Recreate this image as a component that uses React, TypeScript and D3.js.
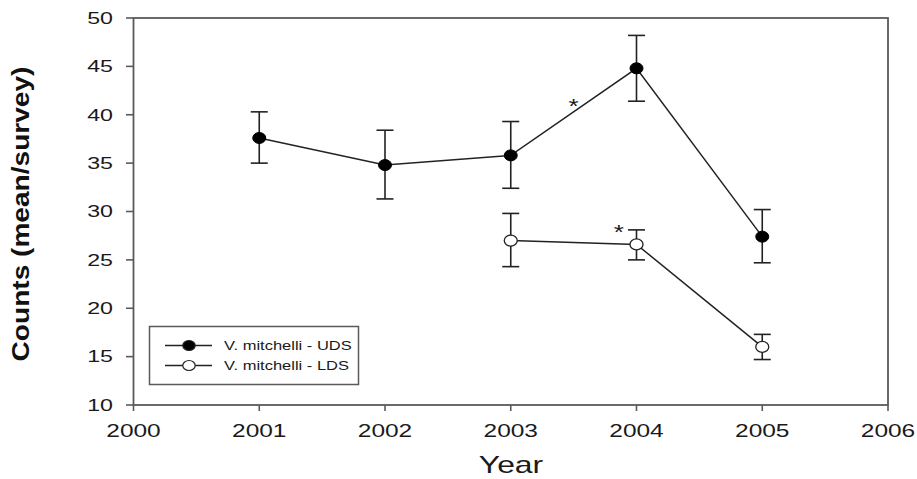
import React from "react";
import * as d3 from "d3";

const years = [2001, 2002, 2003, 2004, 2005];
const udsMean = [37.6, 34.8, 35.8, 44.8, 27.4];
const udsLow = [35.0, 31.3, 32.4, 41.4, 24.7];
const udsHigh = [40.3, 38.4, 39.3, 48.2, 30.2];
const ldsYears = [2003, 2004, 2005];
const ldsMean = [27.0, 26.6, 16.0];
const ldsLow = [24.3, 25.0, 14.7];
const ldsHigh = [29.8, 28.1, 17.3];
const xTicks = [2000, 2001, 2002, 2003, 2004, 2005, 2006];
const yTicks = [10, 15, 20, 25, 30, 35, 40, 45, 50];
const stars = [
  { x: 2003.5, y: 41.2 },
  { x: 2003.86, y: 28.2 },
];
const legendLabels = ["V. mitchelli - UDS", "V. mitchelli - LDS"];

const font = "Arial, 'Liberation Sans', sans-serif";

function SText(props: { x: number; y: number; sx: number; size: number; anchor?: string; weight?: string; children: React.ReactNode }) {
  return (
    <text
      transform={`translate(${props.x},${props.y}) scale(${props.sx},1)`}
      textAnchor={props.anchor || "start"}
      fontFamily={font}
      fontSize={props.size}
      fontWeight={props.weight || "normal"}
      fill="#1a1a1a"
    >
      {props.children}
    </text>
  );
}

export default function App() {
  const W = 917, H = 479;
  const x = d3.scaleLinear().domain([2000, 2006]).range([133.5, 888]);
  const y = d3.scaleLinear().domain([10, 50]).range([405, 18]);
  const line = d3.line<[number, number]>().x(d => x(d[0])).y(d => y(d[1]));
  const uds = years.map((yr, i) => [yr, udsMean[i]] as [number, number]);
  const lds = ldsYears.map((yr, i) => [yr, ldsMean[i]] as [number, number]);
  const axisColor = "#5a5a5a";

  const errBars = (xs: number[], lo: number[], hi: number[], key: string) =>
    xs.map((yr, i) => (
      <g key={key + i} stroke="#222" strokeWidth={1.6}>
        <line x1={x(yr)} x2={x(yr)} y1={y(lo[i])} y2={y(hi[i])} />
        <line x1={x(yr) - 8.5} x2={x(yr) + 8.5} y1={y(lo[i])} y2={y(lo[i])} />
        <line x1={x(yr) - 8.5} x2={x(yr) + 8.5} y1={y(hi[i])} y2={y(hi[i])} />
      </g>
    ));

  return (
    <svg width={W} height={H} style={{ position: "absolute", left: 0, top: 0, background: "#fff" }}>
      <rect width={W} height={H} fill="#fff" />
      {/* frame */}
      <rect x={133.5} y={18} width={888 - 133.5} height={405 - 18} fill="none" stroke={axisColor} strokeWidth={1.8} />
      {/* y ticks */}
      {yTicks.map(t => (
        <g key={"y" + t}>
          <line x1={126} x2={133.5} y1={y(t)} y2={y(t)} stroke={axisColor} strokeWidth={1.6} />
          <SText x={113} y={y(t) + 5.8} sx={1.45} size={16} anchor="end">{t}</SText>
        </g>
      ))}
      {/* x ticks */}
      {xTicks.map(t => (
        <g key={"x" + t}>
          <line x1={x(t)} x2={x(t)} y1={405} y2={411} stroke={axisColor} strokeWidth={1.6} />
          <SText x={x(t)} y={437} sx={1.4} size={17.5} anchor="middle">{t}</SText>
        </g>
      ))}
      {/* axis labels */}
      <SText x={511} y={473} sx={1.33} size={24} anchor="middle">Year</SText>
      <text transform="translate(29,214) rotate(-90) scale(1.17,1)" textAnchor="middle" fontFamily={font} fontSize={24} fontWeight="bold" fill="#111">Counts (mean/survey)</text>
      {/* error bars */}
      {errBars(years, udsLow, udsHigh, "u")}
      {errBars(ldsYears, ldsLow, ldsHigh, "l")}
      {/* lines */}
      <path d={line(uds) || ""} fill="none" stroke="#222" strokeWidth={1.5} />
      <path d={line(lds) || ""} fill="none" stroke="#222" strokeWidth={1.5} />
      {/* markers */}
      {uds.map((d, i) => (
        <ellipse key={"um" + i} cx={x(d[0])} cy={y(d[1])} rx={6.5} ry={5.5} fill="#000" stroke="#000" strokeWidth={1} />
      ))}
      {lds.map((d, i) => (
        <ellipse key={"lm" + i} cx={x(d[0])} cy={y(d[1])} rx={6.5} ry={5.5} fill="#fff" stroke="#222" strokeWidth={1.3} />
      ))}
      {/* significance stars */}
      {stars.map((s, i) => (
        <SText key={"s" + i} x={x(s.x)} y={y(s.y) + 10} sx={1.3} size={20} anchor="middle">*</SText>
      ))}
      {/* legend */}
      <rect x={149.5} y={326.5} width={209} height={58} fill="#fff" stroke={axisColor} strokeWidth={1.5} />
      {legendLabels.map((lab, i) => {
        const ly = 345.5 + i * 20;
        return (
          <g key={"lg" + i}>
            <line x1={165} x2={212} y1={ly} y2={ly} stroke="#222" strokeWidth={1.3} />
            <ellipse cx={189} cy={ly} rx={6.2} ry={5} fill={i === 0 ? "#000" : "#fff"} stroke="#222" strokeWidth={1.2} />
            <SText x={224} y={ly + 4.7} sx={1.27} size={13} anchor="start">{lab}</SText>
          </g>
        );
      })}
    </svg>
  );
}
